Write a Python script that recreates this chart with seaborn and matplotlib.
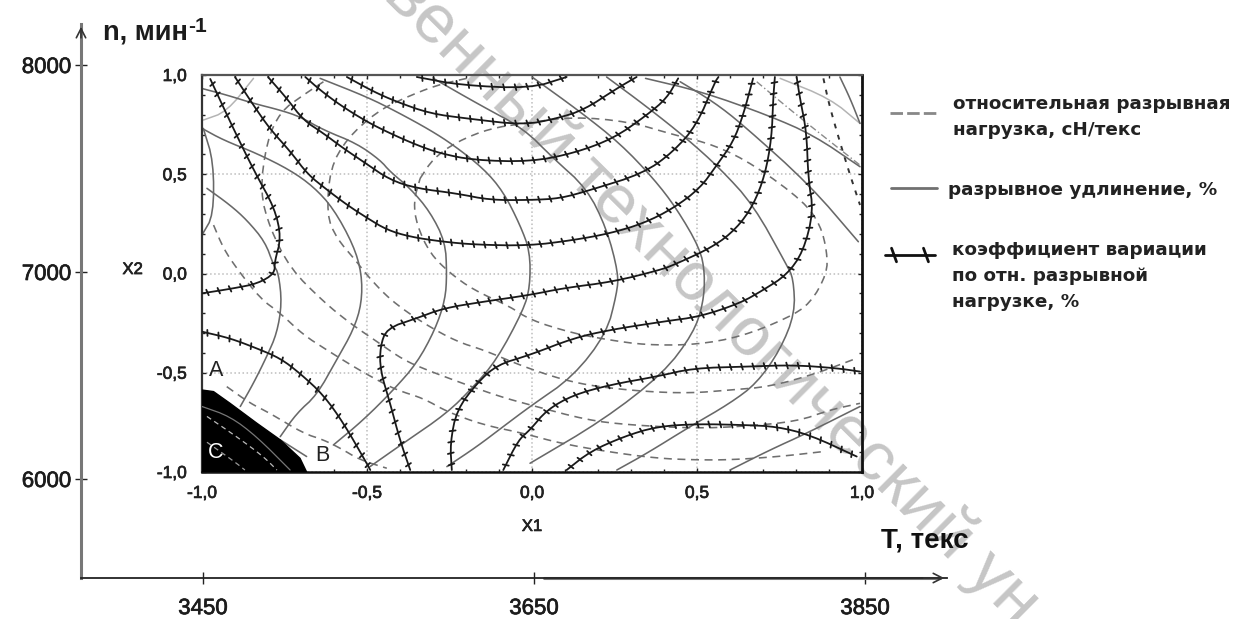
import matplotlib
matplotlib.use("Agg")
import matplotlib.pyplot as plt
import matplotlib.patheffects as pe
from matplotlib.lines import Line2D
from matplotlib.ticker import FuncFormatter
import seaborn as sns

# ---------- axis values ----------
T_ticks = [3450, 3650, 3850]
n_ticks = [6000, 7000, 8000]
coded_ticks = [-1.0, -0.5, 0.0, 0.5, 1.0]
legend_strength = "относительная разрывная\nнагрузка, сН/текс"
legend_elong = "разрывное удлинение, %"
legend_cv = "коэффициент вариации\nпо отн. разрывной\nнагрузке, %"

# ---------- coefficient of variation isolines (X1, X2) ----------
cv_a = [(-0.975,0.98),(-0.905,0.73),(-0.84,0.51),(-0.78,0.33),(-0.76,0.18),(-0.78,0.06),(-0.78,0.0),(-0.83,-0.05),(-0.905,-0.075),(-1.0,-0.10)]
cv_b = [(-0.90,0.99),(-0.845,0.85),(-0.795,0.73),(-0.73,0.61),(-0.68,0.50),(-0.62,0.42),(-0.56,0.345),(-0.50,0.28),(-0.44,0.22),(-0.37,0.185),(-0.27,0.16),(-0.17,0.145),(-0.01,0.14),(0.125,0.168),(0.236,0.202),(0.337,0.252),(0.428,0.328),(0.509,0.429),(0.56,0.546),(0.61,0.664),(0.64,0.798),(0.67,0.983)]
cv_c = [(-0.80,0.99),(-0.743,0.882),(-0.693,0.773),(-0.632,0.706),(-0.571,0.63),(-0.511,0.563),(-0.43,0.471),(-0.349,0.429),(-0.228,0.403),(-0.127,0.37),(-0.006,0.37),(0.085,0.378),(0.176,0.42),(0.337,0.504),(0.428,0.613),(0.499,0.748),(0.555,0.966),(0.565,0.99)]
cv_d = [(-0.687,0.99),(-0.642,0.924),(-0.581,0.848),(-0.501,0.765),(-0.43,0.706),(-0.349,0.647),(-0.278,0.605),(-0.177,0.571),(-0.006,0.563),(0.125,0.605),(0.247,0.68),(0.348,0.798),(0.408,0.882),(0.443,0.983)]
cv_e = [(-0.561,0.99),(-0.48,0.916),(-0.41,0.865),(-0.309,0.806),(-0.198,0.781),(-0.026,0.748),(0.075,0.781),(0.156,0.823),(0.257,0.932),(0.317,0.99)]
cv_f = [(-0.349,0.99),(-0.218,0.949),(-0.006,0.932),(0.105,0.99)]
cv_g = [(-0.369,-0.99),(-0.40,-0.84),(-0.43,-0.654),(-0.46,-0.486),(-0.46,-0.368),(-0.44,-0.276),(-0.349,-0.225),(-0.268,-0.175),(-0.147,-0.142),(-0.006,-0.108),(0.095,-0.074),(0.247,-0.041),(0.388,0.018),(0.428,0.042),(0.55,0.135),(0.62,0.227),(0.671,0.345),(0.706,0.496),(0.726,0.68),(0.731,0.882),(0.736,0.99)]
cv_h = [(-0.243,-0.99),(-0.248,-0.855),(-0.228,-0.687),(-0.167,-0.553),(-0.107,-0.461),(-0.006,-0.41),(0.125,-0.326),(0.236,-0.284),(0.398,-0.242),(0.509,-0.217),(0.63,-0.15),(0.701,-0.083),(0.772,-0.007),(0.822,0.11),(0.853,0.311),(0.837,0.479),(0.832,0.714),(0.812,0.882),(0.802,0.99)]
cv_i = [(-0.087,-0.99),(-0.041,-0.838),(-0.006,-0.788),(0.045,-0.687),(0.125,-0.612),(0.236,-0.561),(0.378,-0.519),(0.489,-0.477),(0.651,-0.469),(0.792,-0.461),(0.923,-0.477),(0.994,-0.494)]
cv_j = [(0.105,-0.99),(0.176,-0.897),(0.277,-0.822),(0.378,-0.771),(0.499,-0.758),(0.64,-0.763),(0.741,-0.771),(0.842,-0.813),(0.984,-0.922)]
cv_k = [(-1.0,-0.293),(-0.915,-0.326),(-0.834,-0.377),(-0.763,-0.427),(-0.703,-0.503),(-0.632,-0.612),(-0.571,-0.754),(-0.501,-0.956),(-0.49,-0.99)]

# ---------- elongation isolines ----------
el_a = [(-1.0,0.932),(-0.925,0.899),(-0.844,0.857),(-0.763,0.823),(-0.703,0.79),(-0.632,0.723),(-0.531,0.655),(-0.46,0.571),(-0.43,0.513),(-0.369,0.429),(-0.309,0.311),(-0.263,0.16),(-0.258,0.0),(-0.263,-0.133),(-0.294,-0.284),(-0.349,-0.452),(-0.42,-0.587),(-0.511,-0.738),(-0.602,-0.864)]
el_b = [(-1.0,0.731),(-0.935,0.672),(-0.834,0.605),(-0.733,0.521),(-0.662,0.437),(-0.602,0.328),(-0.541,0.143),(-0.516,0.0),(-0.516,-0.15),(-0.541,-0.284),(-0.592,-0.435),(-0.652,-0.612),(-0.713,-0.704),(-0.763,-0.822)]
el_c = [(-0.985,0.429),(-0.915,0.345),(-0.864,0.269),(-0.809,0.16),(-0.783,0.042),(-0.768,0.0),(-0.758,-0.15),(-0.773,-0.301),(-0.804,-0.419),(-0.844,-0.553),(-0.884,-0.67)]
el_d = [(-0.996,0.731),(-0.965,0.563),(-0.965,0.294),(-1.0,0.194)]
el_e = [(-0.642,0.983),(-0.501,0.89),(-0.41,0.815),(-0.309,0.723),(-0.238,0.647),(-0.147,0.529),(-0.087,0.412),(-0.036,0.244),(-0.006,0.11),(-0.006,-0.066),(-0.026,-0.184),(-0.107,-0.435),(-0.177,-0.57),(-0.258,-0.704),(-0.39,-0.855),(-0.491,-0.973)]
el_f = [(-0.299,0.983),(-0.157,0.848),(-0.026,0.731),(0.065,0.58),(0.166,0.429),(0.226,0.227),(0.262,0.0),(0.257,-0.1),(0.226,-0.301),(0.125,-0.519),(-0.006,-0.67),(-0.087,-0.771),(-0.167,-0.872),(-0.258,-0.973)]
el_g = [(0.0,0.99),(0.146,0.815),(0.267,0.655),(0.368,0.479),(0.438,0.328),(0.509,0.126),(0.524,0.0),(0.519,-0.15),(0.489,-0.301),(0.398,-0.503),(0.216,-0.738),(-0.006,-0.956)]
el_h = [(0.226,0.99),(0.348,0.84),(0.469,0.68),(0.57,0.529),(0.671,0.345),(0.772,0.042),(0.792,-0.025),(0.797,-0.2),(0.752,-0.385),(0.681,-0.553),(0.6,-0.654),(0.479,-0.771),(0.348,-0.906),(0.257,-0.99)]
el_i = [(0.344,0.983),(0.514,0.916),(0.714,0.798),(0.853,0.697),(0.994,0.538)]
el_j = [(0.449,0.966),(0.55,0.865),(0.64,0.748),(0.842,0.445),(0.989,0.16)]
el_k = [(0.933,0.99),(0.964,0.882),(0.994,0.756)]
el_l = [(0.6,-0.99),(0.721,-0.889),(0.832,-0.805),(0.994,-0.67)]
el_m = [(-0.763,-0.838),(-0.683,-0.922)]
light_a = [(-0.996,0.773),(-0.925,0.815),(-0.844,0.983)]
light_b = [(0.752,0.983),(0.903,0.882),(0.994,0.756)]
light_c = [(0.681,0.966),(0.802,0.798),(0.994,0.546)]

# ---------- relative breaking load isolines ----------
st_a = [(-0.198,0.983),(-0.289,0.949),(-0.39,0.882),(-0.47,0.815),(-0.561,0.68),(-0.612,0.529),(-0.622,0.294),(-0.592,0.177),(-0.531,0.059),(-0.501,-0.007),(-0.43,-0.133),(-0.329,-0.251),(-0.228,-0.343),(-0.147,-0.385),(-0.026,-0.469),(0.095,-0.536),(0.196,-0.57),(0.344,-0.595),(0.479,-0.603),(0.6,-0.587),(0.721,-0.57),(0.863,-0.503),(0.984,-0.427)]
st_b = [(-0.339,0.479),(-0.299,0.58),(-0.228,0.664),(-0.127,0.731),(-0.026,0.756),(0.124,0.79),(0.294,0.765),(0.434,0.697),(0.554,0.647),(0.674,0.546),(0.824,0.362),(0.874,0.244),(0.894,0.11),(0.894,0.0),(0.844,-0.15),(0.774,-0.225),(0.634,-0.318),(0.494,-0.36),(0.344,-0.36),(0.234,-0.335),(0.124,-0.301),(-0.006,-0.234),(-0.066,-0.167),(-0.177,-0.083),(-0.248,0.001),(-0.309,0.1),(-0.349,0.244),(-0.359,0.361),(-0.339,0.479)]
st_c = [(-0.632,0.966),(-0.693,0.899),(-0.763,0.815),(-0.804,0.664),(-0.824,0.412),(-0.794,0.227),(-0.733,0.026),(-0.632,-0.142),(-0.551,-0.251),(-0.47,-0.343),(-0.39,-0.435),(-0.319,-0.486),(-0.198,-0.561),(-0.097,-0.62),(-0.006,-0.662),(0.166,-0.738),(0.294,-0.763),(0.494,-0.78),(0.634,-0.771),(0.802,-0.746),(0.903,-0.687),(0.994,-0.654)]
st_d = [(-0.965,0.244),(-0.935,0.126),(-0.895,0.026),(-0.824,-0.125),(-0.763,-0.2),(-0.693,-0.309),(-0.622,-0.385),(-0.541,-0.469),(-0.47,-0.536),(-0.41,-0.587),(-0.329,-0.629),(-0.258,-0.696),(-0.147,-0.763),(-0.026,-0.805),(0.085,-0.855),(0.226,-0.897),(0.378,-0.931),(0.494,-0.939),(0.6,-0.939),(0.751,-0.922),(0.883,-0.897)]
st_e = [(-0.925,-0.57),(-0.854,-0.654),(-0.794,-0.704),(-0.693,-0.805),(-0.632,-0.838),(-0.581,-0.88),(-0.521,-0.939),(-0.44,-0.981)]
st_f = [(0.883,0.983),(0.903,0.832),(0.954,0.546),(0.994,0.345)]

# ---------- forbidden region and lines inside it ----------
zone_x = [-1.0,-1.0,-0.965,-0.915,-0.834,-0.763,-0.703,-0.683]
zone_y = [-1.0,-0.587,-0.595,-0.654,-0.754,-0.838,-0.931,-1.0]
zone_dash_a = [(-0.985,-0.72),(-0.895,-0.822),(-0.814,-0.922),(-0.773,-0.99)]
zone_dash_b = [(-0.985,-0.85),(-0.90,-0.95),(-0.87,-0.99)]
zone_line = [(-1.0,-0.67),(-0.915,-0.72),(-0.834,-0.822),(-0.733,-0.99)]

sns.set_theme(style="white")
plt.rcParams["font.family"] = ["Liberation Sans", "DejaVu Sans"]

W, H = 1237, 619
fig = plt.figure(figsize=(W / 100, H / 100), dpi=100, facecolor="white")


def px(x, y):
    return x / W, 1 - y / H


def box(x0, y0, x1, y1):
    return [x0 / W, 1 - y1 / H, (x1 - x0) / W, (y1 - y0) / H]


thicken = [pe.withStroke(linewidth=0.5, foreground="#1c1c1c")]

# watermark behind everything
fig.text(*px(382, -3), "венный технологический ун", rotation=-44.8,
         rotation_mode="anchor", ha="left", va="baseline", fontsize=50,
         color="#c6c6c6", zorder=-5, family="Liberation Sans")

# ---------- outer physical axes ----------
outer = fig.add_axes(box(81, 24, 947, 578), facecolor="none")
outer.set_xlim(3376.3, 3899.5)
outer.set_ylim(5521.7, 8198)
sns.despine(ax=outer)
outer.spines["left"].set(color="#777777", linewidth=2.2)
outer.spines["bottom"].set(color="#222222", linewidth=1.3)
outer.set_xticks(T_ticks)
outer.set_yticks(n_ticks)
outer.tick_params(axis="both", direction="inout", length=9, width=1.0, color="#222222",
                  labelsize=16, labelcolor="#1c1c1c", pad=10, bottom=True, left=True)
outer.tick_params(axis="y", pad=3, length=8)
for lbl in outer.get_xticklabels() + outer.get_yticklabels():
    lbl.set_path_effects(thicken)
sns.lineplot(x=[3656, 3895], y=[5521.7, 5521.7], ax=outer, color="#777777", lw=2.2,
             estimator=None, sort=False, clip_on=False)
arrow = dict(arrowstyle="->,head_length=0.55,head_width=0.28", color="#333333", lw=1.2)
outer.annotate("", xy=(1.0, 0), xytext=(0.97, 0), xycoords="axes fraction", arrowprops=arrow)
outer.annotate("", xy=(0, 1.0), xytext=(0, 0.97), xycoords="axes fraction", arrowprops=arrow)

# ---------- inner coded axes ----------
ax = fig.add_axes(box(202, 75, 862, 472), facecolor="none")
ax.set_xlim(-1, 1)
ax.set_ylim(-1, 1)
for side, col, w in [("left", "#333333", 1.6), ("top", "#555555", 1.6),
                     ("right", "#111111", 2.0), ("bottom", "#111111", 1.8)]:
    ax.spines[side].set(color=col, linewidth=w, visible=True)
fmt = FuncFormatter(lambda v, _: f"{v:.1f}".replace(".", ","))
ax.set_xticks(coded_ticks)
ax.set_yticks(coded_ticks)
ax.xaxis.set_major_formatter(fmt)
ax.yaxis.set_major_formatter(fmt)
ax.set_xticks([i / 10 for i in range(-10, 11)], minor=True)
ax.set_yticks([i / 10 for i in range(-10, 11)], minor=True)
ax.tick_params(which="minor", direction="in", length=2, width=1.0, color="#222222",
               top=True, right=True, bottom=True, left=True)
ax.tick_params(which="major", direction="in", length=3, width=1.0, color="#222222",
               top=True, right=True, bottom=True, left=True, labelsize=12.5, labelcolor="#222222")
ax.tick_params(axis="x", which="major", pad=10)
ax.tick_params(axis="y", which="major", pad=11)
for lbl in ax.get_xticklabels() + ax.get_yticklabels():
    lbl.set_path_effects(thicken)
ax.grid(True, which="major", color="#bdbdbd", linestyle=":", linewidth=1.1)
ax.set_axisbelow(True)
ax.set_xlabel("X1", fontsize=12, color="#222222", labelpad=13, path_effects=thicken)
ax.set_ylabel("X2", fontsize=12, color="#222222", rotation=0, ha="center", va="center",
              path_effects=thicken)
ax.yaxis.set_label_coords(-0.105, 0.51)


def rounded(points, passes=2):
    """Round the polyline corners when drawing, as the isolines are smooth."""
    pts = list(points)
    for _ in range(passes):
        out = [pts[0]]
        for (x0, y0), (x1, y1) in zip(pts[:-1], pts[1:]):
            out.append((0.75 * x0 + 0.25 * x1, 0.75 * y0 + 0.25 * y1))
            out.append((0.25 * x0 + 0.75 * x1, 0.25 * y0 + 0.75 * y1))
        out.append(pts[-1])
        pts = out
    return pts


def curve(points, **kw):
    pts = rounded(points)
    sns.lineplot(x=[p[0] for p in pts], y=[p[1] for p in pts], ax=ax,
                 estimator=None, sort=False, **kw)


ax.fill(zone_x, zone_y, color="#000000", zorder=3)
curve(zone_dash_a, color="#bbbbbb", lw=0.9, linestyle=(0, (4, 3)), zorder=4)
curve(zone_dash_b, color="#999999", lw=0.9, linestyle=(0, (4, 3)), zorder=4)
curve(zone_line, color="#777777", lw=0.9, zorder=4)

for pts in [st_a, st_b, st_c, st_d, st_e]:
    curve(pts, color="#6f6f6f", lw=1.15, linestyle=(0, (5, 3.5)), zorder=2)
curve(st_f, color="#333333", lw=1.4, linestyle=(0, (2.5, 3.5)), zorder=2)
for pts in [el_a, el_b, el_c, el_d, el_e, el_f, el_g, el_h, el_i, el_j, el_k, el_l, el_m]:
    curve(pts, color="#686868", lw=1.15, zorder=2.5)
for pts in [light_a, light_b]:
    curve(pts, color="#b4b4b4", lw=1.1, zorder=2)
curve(light_c, color="#8a8a8a", lw=1.0, linestyle=(0, (5, 2, 1, 2)), zorder=2)

ticked = [pe.TickedStroke(spacing=8, angle=105, length=0.27),
          pe.TickedStroke(spacing=8, angle=-75, length=0.27),
          pe.Normal()]
for pts in [cv_a, cv_b, cv_c, cv_d, cv_e, cv_f, cv_g, cv_h, cv_i, cv_j, cv_k]:
    curve(pts, color="#1a1a1a", lw=1.3, zorder=3, path_effects=ticked)

ax.text(-0.958, -0.49, "A", fontsize=15.5, color="#222222", ha="center", va="center", zorder=5)
ax.text(-0.636, -0.917, "B", fontsize=15.5, color="#222222", ha="center", va="center", zorder=5)
ax.text(-0.958, -0.90, "C", fontsize=15.5, color="white", ha="center", va="center", zorder=5)

# ---------- axis captions ----------
fig.text(*px(103, 33), "n, мин", fontsize=19.5, fontweight="bold", color="#1c1c1c", va="center")
fig.text(*px(188, 26), "-1", fontsize=15, fontweight="bold", color="#1c1c1c", va="center")
fig.text(*px(881, 541), "Т, текс", fontsize=20, fontweight="bold", color="#111111", va="center")

# ---------- hand-made legend ----------
legend_font = dict(family="DejaVu Sans", fontsize=13.2, fontweight="bold", color="#222222",
                   va="center", linespacing=1.6)
fig.add_artist(Line2D([890 / W, 940 / W], [1 - 113 / H] * 2, color="#888888", lw=2,
                      linestyle=(0, (4.5, 1.5))))
fig.add_artist(Line2D([891 / W, 937 / W], [1 - 188 / H] * 2, color="#707070", lw=2))
fig.add_artist(Line2D([885 / W, 935 / W], [1 - 255 / H] * 2, color="#111111", lw=2,
                      path_effects=[pe.TickedStroke(spacing=13, angle=110, length=0.4),
                                    pe.TickedStroke(spacing=13, angle=-70, length=0.4),
                                    pe.Normal()]))
fig.text(*px(953, 117), legend_strength, **legend_font)
fig.text(*px(948, 190), legend_elong, **legend_font)
fig.text(*px(952, 276), legend_cv, **legend_font)

fig.savefig("out.png", dpi=100)
